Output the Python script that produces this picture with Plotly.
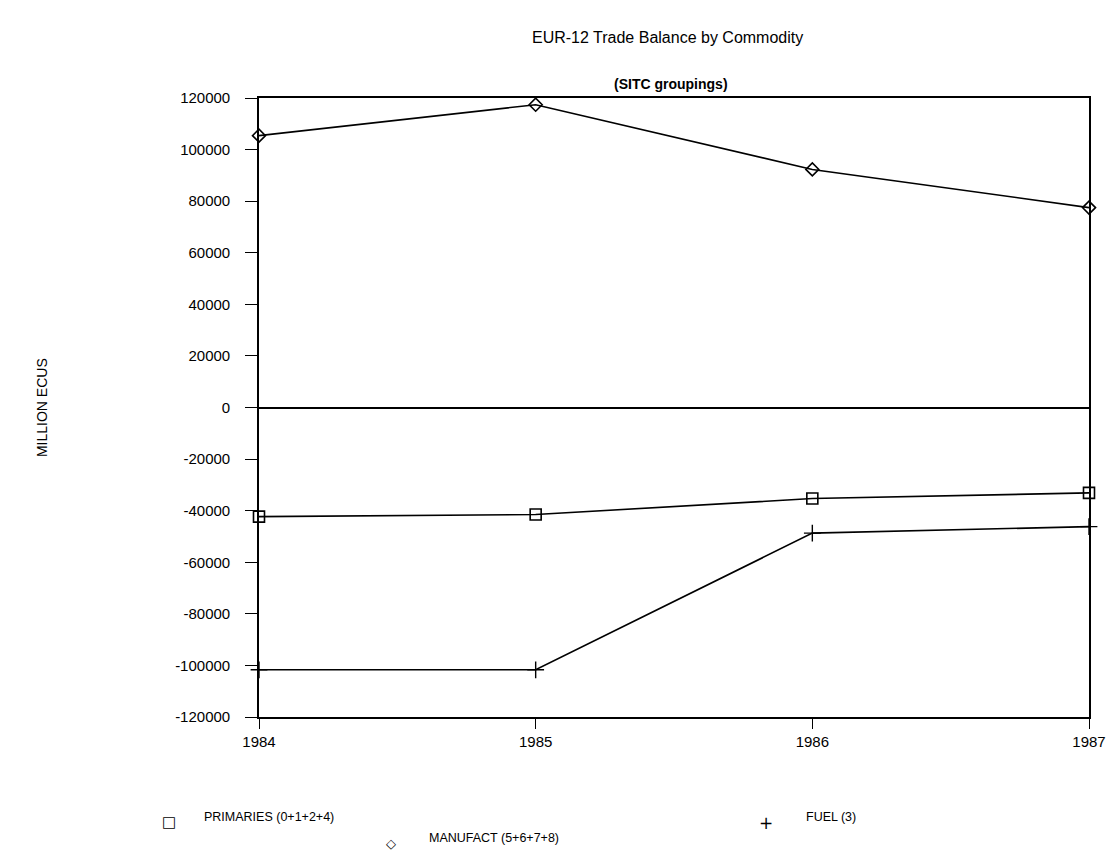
import plotly.graph_objects as go

years = [1984, 1985, 1986, 1987]
primaries = [-42300, -41500, -35300, -33100]
manufact = [105400, 117400, 92300, 77500]
fuel = [-101700, -101700, -48700, -46200]

y_ticks = list(range(-120000, 120001, 20000))

FONT = "Arial, Liberation Sans, sans-serif"

fig = go.Figure()

fig.add_trace(go.Scatter(
    x=years, y=primaries, mode="lines+markers", name="PRIMARIES (0+1+2+4)",
    line=dict(color="black", width=1.6),
    marker=dict(symbol="square-open", size=11, color="black", line=dict(width=1.6)),
    cliponaxis=False
))
fig.add_trace(go.Scatter(
    x=years, y=manufact, mode="lines+markers", name="MANUFACT (5+6+7+8)",
    line=dict(color="black", width=1.6),
    marker=dict(symbol="diamond-open", size=10, color="black", line=dict(width=1.6)),
    cliponaxis=False
))
fig.add_trace(go.Scatter(
    x=years, y=fuel, mode="lines+markers", name="FUEL (3)",
    line=dict(color="black", width=1.6),
    marker=dict(symbol="cross-thin-open", size=12, color="black", line=dict(width=1.4, color="black")),
    cliponaxis=False
))


# pixel -> paper helpers (plot area is 259..1095 x 98..717)
def px_x(px):
    return (px - 259) / 836


def px_y(py):
    return (717 - py) / 619


legend_items = [
    ("□", 168, 822, 15, "PRIMARIES (0+1+2+4)", 202, 817),
    ("◇", 392, 843, 13, "MANUFACT (5+6+7+8)", 428, 838),
    ("+", 770, 823, 17, "FUEL (3)", 808, 817),
]

annotations = [
    dict(text="EUR-12 Trade Balance by Commodity", xref="paper", yref="paper",
         x=px_x(670), y=px_y(37), showarrow=False, xanchor="center", yanchor="middle",
         font=dict(family=FONT, size=16, color="black")),
    dict(text="<b>(SITC groupings)</b>", xref="paper", yref="paper",
         x=px_x(674), y=px_y(84), showarrow=False, xanchor="center", yanchor="middle",
         font=dict(family=FONT, size=14, color="black")),
    dict(text="MILLION ECUS", xref="paper", yref="paper", textangle=-90,
         x=px_x(40), y=0.5, showarrow=False, xanchor="center", yanchor="middle",
         font=dict(family=FONT, size=14, color="black")),
]
for sym, sx, sy, ssize, label, lx, ly in legend_items:
    annotations.append(dict(text=sym, xref="paper", yref="paper", x=px_x(sx), y=px_y(sy),
                            showarrow=False, xanchor="center", yanchor="middle",
                            font=dict(family="DejaVu Sans", size=ssize, color="black")))
    annotations.append(dict(text=label, xref="paper", yref="paper", x=px_x(lx), y=px_y(ly),
                            showarrow=False, xanchor="left", yanchor="middle",
                            font=dict(family=FONT, size=12.5, color="black")))

fig.update_layout(
    width=1118, height=853,
    margin=dict(l=259, r=23, t=98, b=136),
    paper_bgcolor="white", plot_bgcolor="white",
    showlegend=False,
    font=dict(family=FONT, color="black"),
    annotations=annotations,
    xaxis=dict(
        range=[1984, 1987], tickvals=years, ticktext=[str(y) for y in years],
        showgrid=False, zeroline=False, showline=True, linecolor="black", linewidth=1.6,
        mirror=True, ticks="outside", ticklen=10, tickwidth=1.4, tickcolor="black",
        tickfont=dict(family=FONT, size=15, color="black")
    ),
    yaxis=dict(
        range=[-120000, 120000], tickvals=y_ticks, ticktext=[str(v) for v in y_ticks],
        showgrid=False, zeroline=True, zerolinecolor="black", zerolinewidth=1.6,
        showline=True, linecolor="black", linewidth=1.6, mirror=True,
        ticks="outside", ticklen=12, tickwidth=1.4, tickcolor="black",
        ticklabelstandoff=12,
        tickfont=dict(family=FONT, size=15, color="black")
    ),
)

# drop the default body margin so the figure fills the window exactly
fig.write_html("out.html", config={"displayModeBar": False},
               post_script="document.body.style.margin='0px';")
